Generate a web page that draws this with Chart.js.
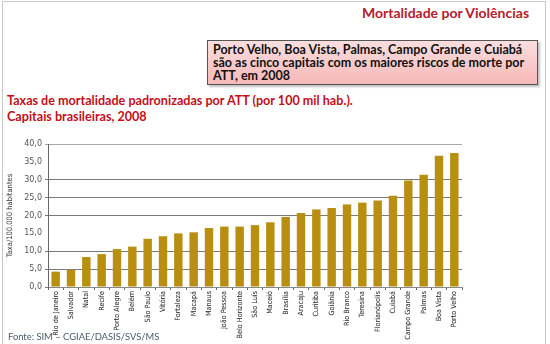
<!DOCTYPE html>
<html>
<head>
<meta charset="utf-8">
<script src="https://cdn.jsdelivr.net/npm/chart.js@4/dist/chart.umd.min.js"></script>
<style>
  html, body { margin: 0; padding: 0; background: #fff; }
  #page { position: relative; width: 550px; height: 344px; overflow: hidden; background: #fff; }
  #frame { position: absolute; left: 2px; top: 1px; width: 544px; height: 360px; border: 1px solid #c8c8c8; box-sizing: border-box; }
  #heading { position: absolute; left: 362px; top: 4px; font: bold 14px Lato, "Open Sans", sans-serif; color: #b5202a; white-space: nowrap; }
  #note { position: absolute; left: 207px; top: 40px; width: 331px; height: 45px; box-sizing: border-box;
          border: 1px solid #555; background: linear-gradient(#fbdede, #f7b8b8);
          box-shadow: 2px 2px 2px rgba(0,0,0,0.25); white-space: nowrap;
          padding: 3px 5px; font: bold 12.5px/12.8px Lato, "Open Sans", sans-serif; color: #111; }
  #subtitle { position: absolute; left: 7px; top: 93px; font: bold 12.6px/16px Lato, "Open Sans", sans-serif; color: #c0101a; white-space: nowrap; }
  #source { position: absolute; left: 8px; top: 331px; font: 9.4px Lato, "Open Sans", sans-serif; color: #4a5a6a; white-space: nowrap; }
  #chartBox { position: absolute; left: 0; top: 130px; width: 550px; height: 214px; }
</style>
</head>
<body>
<div id="page">
  <div id="frame"></div>
  <div id="heading">Mortalidade por Violências</div>
  <div id="note">Porto Velho, Boa Vista, Palmas, Campo Grande e Cuiabá<br>são as cinco capitais com os maiores riscos de morte por<br>ATT, em 2008</div>
  <div id="subtitle">Taxas de mortalidade padronizadas por ATT (por 100 mil hab.).<br>Capitais brasileiras, 2008</div>
  <div id="chartBox"><canvas id="chart" width="550" height="214"></canvas></div>
  <div id="source">Fonte: SIM – CGIAE/DASIS/SVS/MS</div>
</div>
<script>
// Capitals ordered by standardised ATT mortality rate, 2008
const capitals = [
  "Rio de Janeiro", "Salvador", "Natal", "Recife", "Porto Alegre", "Belém",
  "São Paulo", "Vitória", "Fortaleza", "Macapá", "Manaus", "João Pessoa",
  "Belo Horizonte", "São Luís", "Maceió", "Brasília", "Aracaju", "Curitiba",
  "Goiânia", "Rio Branco", "Teresina", "Florianópolis", "Cuiabá",
  "Campo Grande", "Palmas", "Boa Vista", "Porto Velho"
];
// Rate per 100,000 inhabitants
const rates = [
  4.3, 4.8, 8.4, 9.2, 10.6, 11.3,
  13.5, 14.2, 15.0, 15.3, 16.5, 16.9,
  16.9, 17.3, 18.1, 19.6, 20.7, 21.7,
  22.1, 23.1, 23.6, 24.2, 25.5,
  29.8, 31.4, 36.7, 37.5
];
const yTicks = [0, 5, 10, 15, 20, 25, 30, 35, 40];
const hiddenGrid = [15, 35];

const fmt = v => v.toFixed(1).replace('.', ',');

new Chart(document.getElementById('chart'), {
  type: 'bar',
  data: {
    labels: capitals,
    datasets: [{
      data: rates,
      backgroundColor: '#b88f10',
      borderWidth: 0,
      barPercentage: 0.55,
      categoryPercentage: 1.0
    }]
  },
  options: {
    responsive: false,
    animation: false,
    events: [],
    layout: { padding: { left: 4, right: 88, top: 14, bottom: 0 } },
    plugins: { legend: { display: false }, tooltip: { enabled: false } },
    scales: {
      x: {
        offset: true,
        grid: { display: true, drawOnChartArea: false, color: '#666', tickLength: 3, offset: true },
        border: { display: true, color: '#888', width: 1 },
        ticks: {
          autoSkip: false, minRotation: 90, maxRotation: 90, padding: 1,
          color: '#222',
          font: { family: '"Liberation Sans Narrow", "DejaVu Sans Condensed", sans-serif', size: 7.2 }
        },
        afterFit: s => { s.height = 57; }
      },
      y: {
        min: 0, max: 40,
        afterBuildTicks: s => { s.ticks = yTicks.map(v => ({ value: v })); },
        grid: {
          color: ctx => hiddenGrid.includes(ctx.tick && ctx.tick.value) ? 'rgba(0,0,0,0)' : (ctx.tick && ctx.tick.value === 40 ? '#a8a8a8' : '#7a7a7a'),
          tickLength: 3,
          lineWidth: 1
        },
        border: { display: true, color: '#666', width: 1 },
        ticks: {
          color: '#555', padding: 3,
          font: { family: '"DejaVu Sans", sans-serif', size: 8 },
          callback: v => fmt(v)
        },
        title: {
          display: true, text: 'Taxa/100.000 habitantes', color: '#333',
          font: { family: '"Liberation Sans Narrow", "DejaVu Sans Condensed", sans-serif', size: 7.5 },
          padding: { top: 2, bottom: 2 }
        },
        afterFit: s => { s.width = 44; }
      }
    }
  }
});
</script>
</body>
</html>
